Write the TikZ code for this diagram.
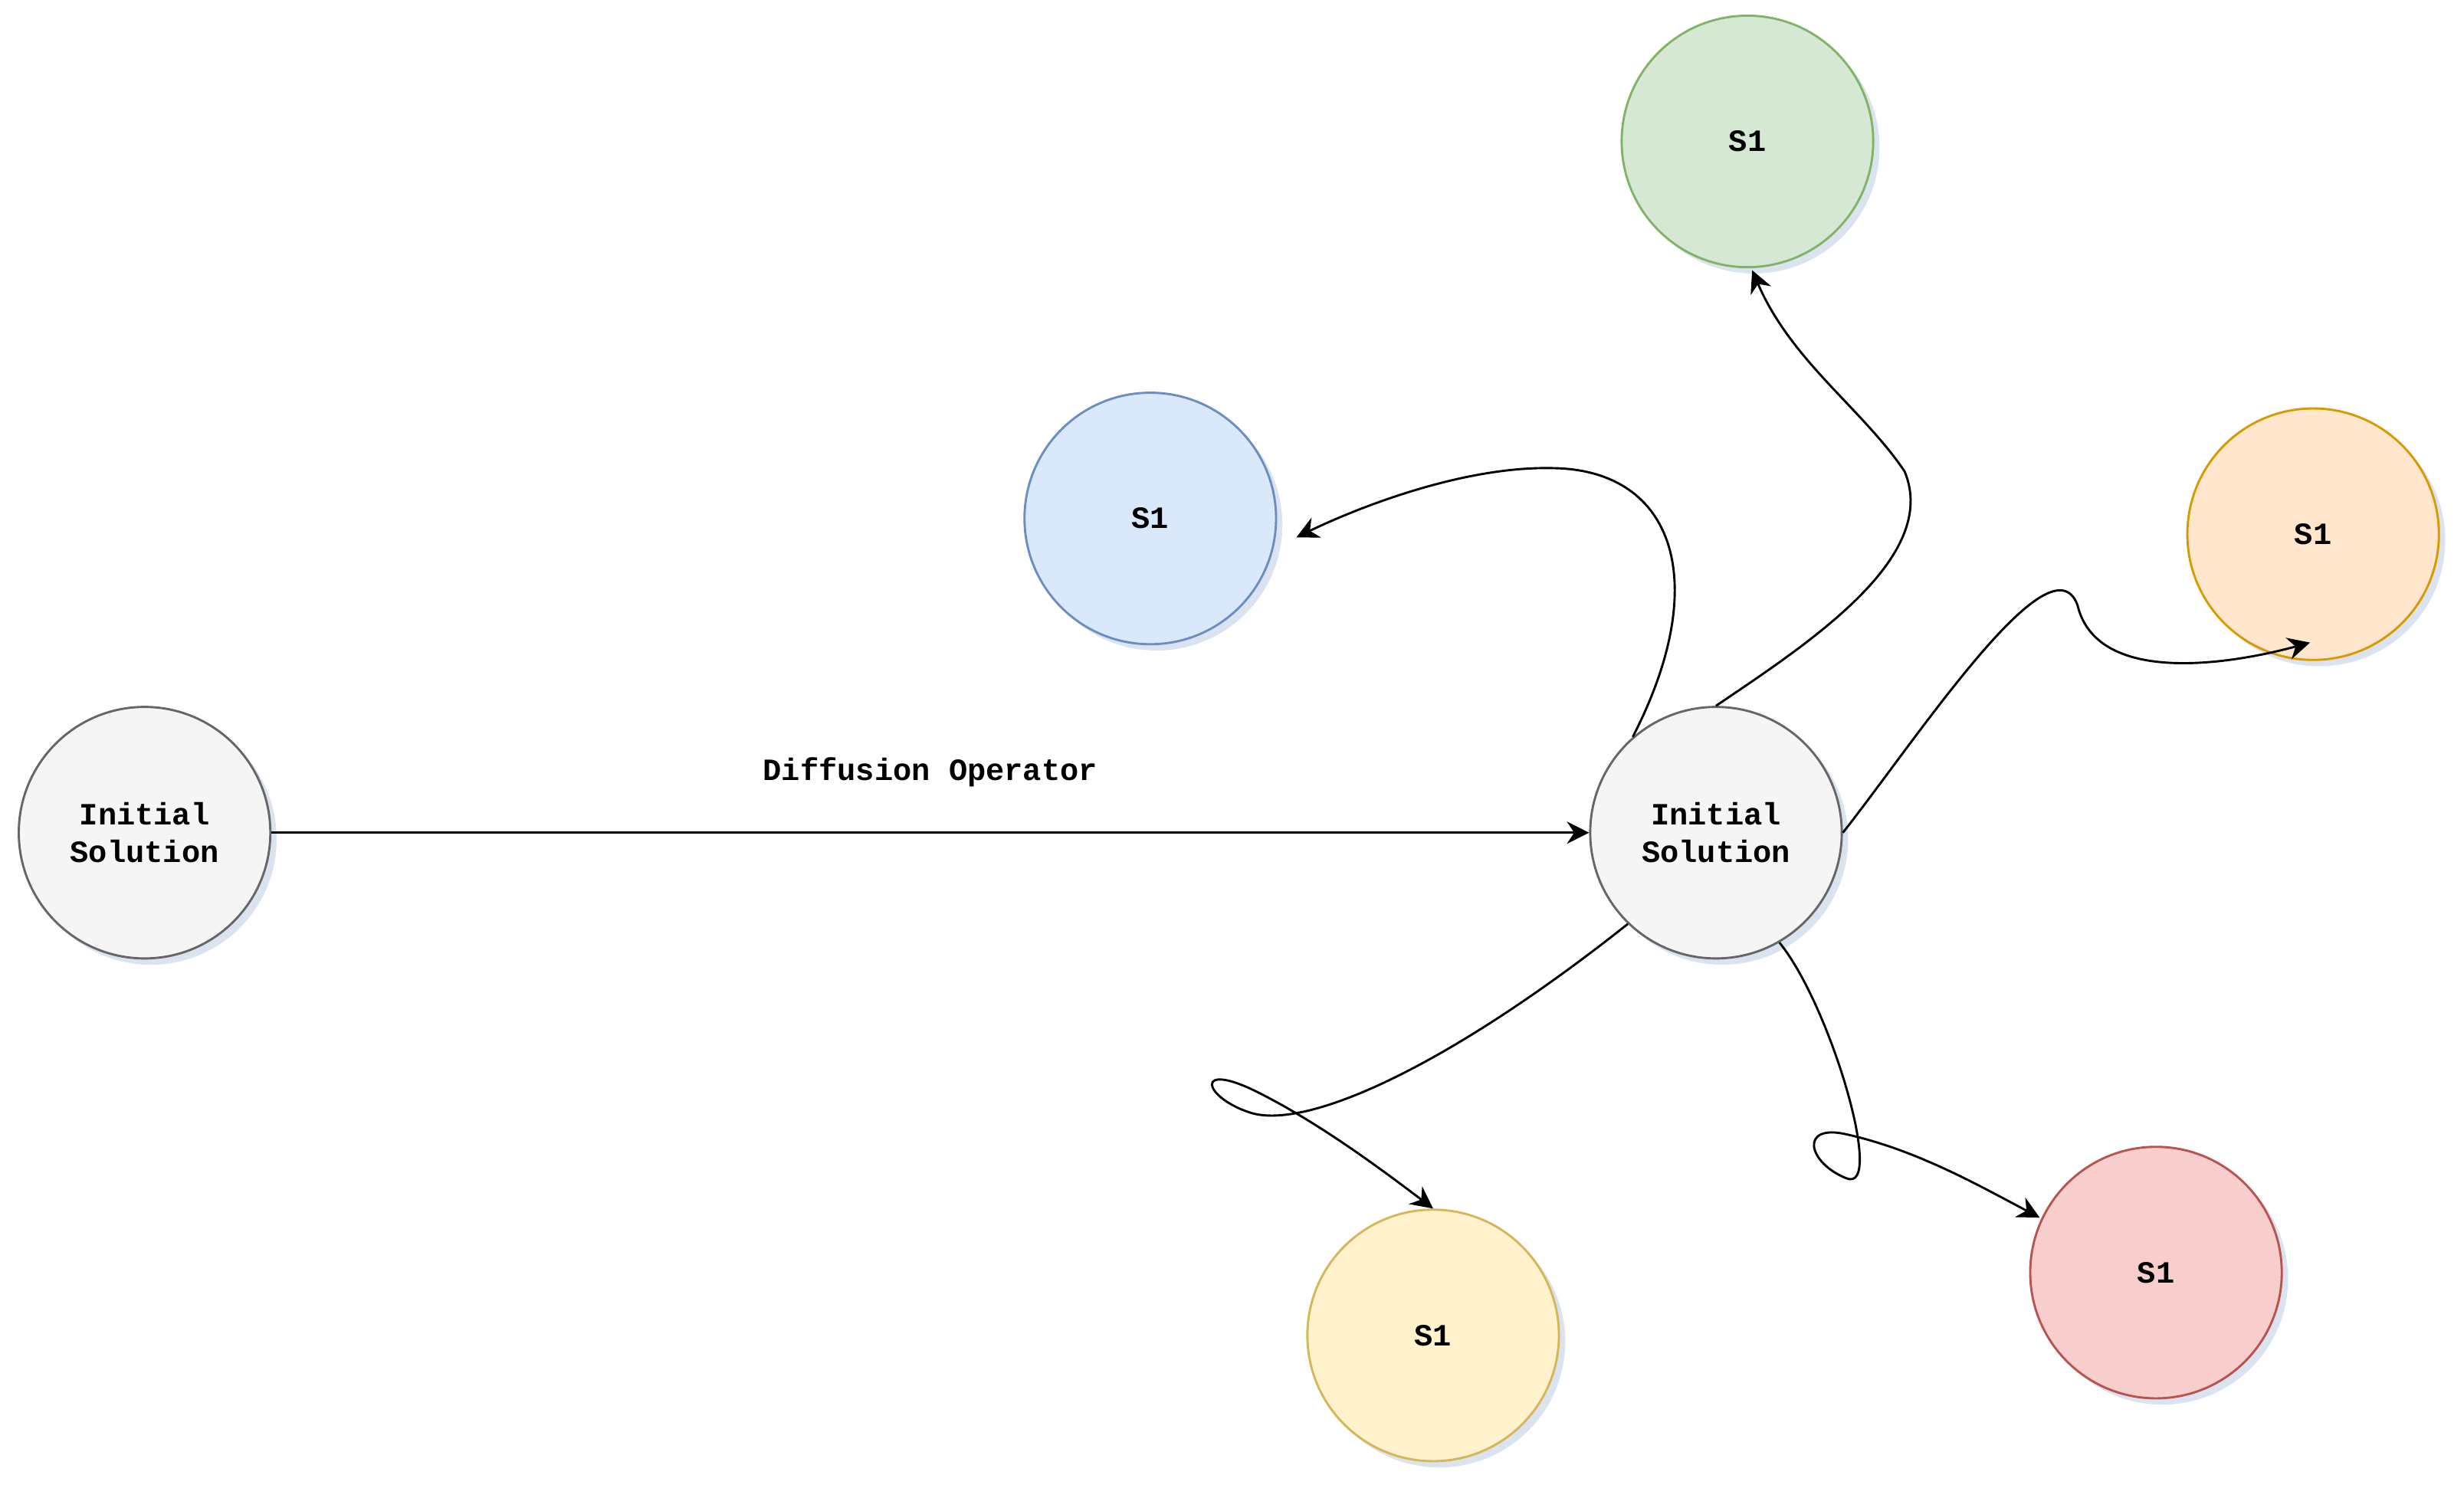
\documentclass[tikz,border=0pt]{standalone}
\usepackage{fontspec}
\setmainfont{Liberation Mono}
\usetikzlibrary{shadows,arrows.meta}
\definecolor{gf}{HTML}{F5F5F5}\definecolor{gd}{HTML}{666666}
\definecolor{grf}{HTML}{D5E8D4}\definecolor{grd}{HTML}{82B366}
\definecolor{bf}{HTML}{DAE8FC}\definecolor{bd}{HTML}{6C8EBF}
\definecolor{of}{HTML}{FFE6CC}\definecolor{od}{HTML}{D79B00}
\definecolor{yf}{HTML}{FFF2CC}\definecolor{yd}{HTML}{D6B656}
\definecolor{rf}{HTML}{F8CECC}\definecolor{rd}{HTML}{B85450}
\begin{document}
\begin{tikzpicture}[x=0.01cm,y=-0.01cm,
  st/.style={circle,minimum size=1.6cm,inner sep=0pt,line width=0.4pt,align=center,
    font=\fontsize{5.6}{6.8}\selectfont\bfseries,
    drop shadow={shadow xshift=0.04cm,shadow yshift=-0.04cm,opacity=0.25,fill=bd}},
  ar/.style={-{Stealth[length=4pt,width=4pt]},line width=0.4pt}]
\useasboundingbox (0,0) rectangle (1568,947);
\node[st,fill=gf,draw=gd] (i1) at (92,530) {Initial\\Solution};
\node[st,fill=gf,draw=gd] (i2) at (1092,530) {Initial\\Solution};
\node[st,fill=grf,draw=grd] (g) at (1112,90) {S1};
\node[st,fill=bf,draw=bd] (b) at (732,330) {S1};
\node[st,fill=of,draw=od] (o) at (1472,340) {S1};
\node[st,fill=yf,draw=yd] (y) at (912,850) {S1};
\node[st,fill=rf,draw=rd] (r) at (1372,810) {S1};
\coordinate (bt) at (825,342);
\coordinate (gt) at (1115,172);
\coordinate (ot) at (1470,409);
\coordinate (rt) at (1298,775);
\draw[ar] (i1.east) -- node[above=0.17cm,font=\fontsize{5.6}{7}\selectfont\bfseries]{Diffusion Operator} (i2.west);
\draw[ar] (i2.131) .. controls (1090,370) and (1065,300) .. (990,298) .. controls (930,296) and (860,325) .. (bt);
\draw[ar] (i2.north) .. controls (1150,410) and (1235,355) .. (1212,300) .. controls (1185,260) and (1140,230) .. (gt);
\draw[ar] (i2.east) .. controls (1220,470) and (1305,340) .. (1322,385) .. controls (1335,440) and (1430,420) .. (ot);
\draw[ar] (i2.-134) .. controls (920,680) and (830,720) .. (795,708) .. controls (765,698) and (760,675) .. (800,695) .. controls (840,715) and (880,745) .. (y.north);
\draw[ar] (i2.-60) .. controls (1165,640) and (1200,760) .. (1175,750) .. controls (1150,740) and (1145,715) .. (1175,722) .. controls (1220,732) and (1260,755) .. (rt);
\end{tikzpicture}
\end{document}
